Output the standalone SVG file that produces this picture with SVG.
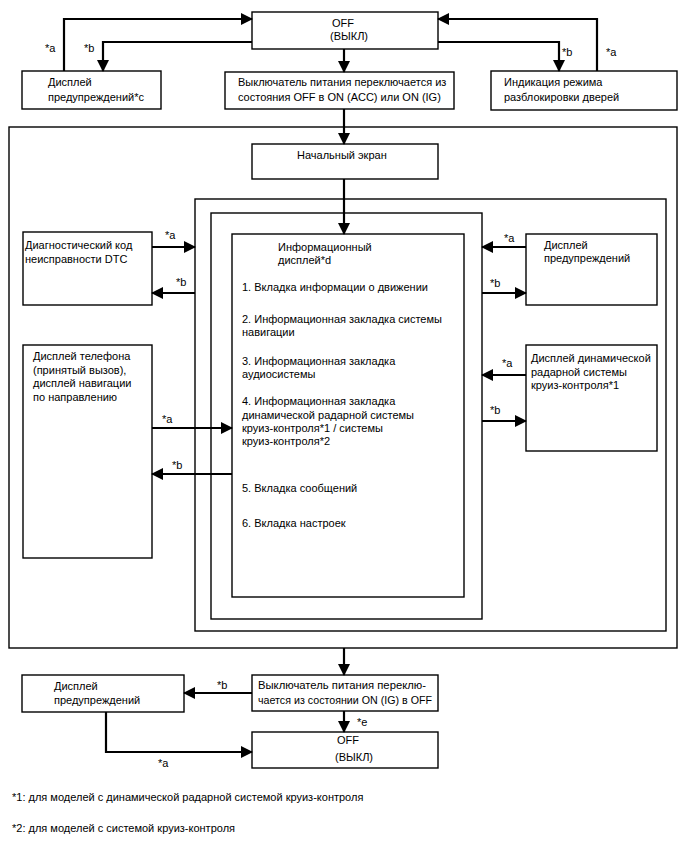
<svg xmlns="http://www.w3.org/2000/svg" width="688" height="852" viewBox="0 0 688 852">
<defs>
<marker id="ah" markerUnits="userSpaceOnUse" markerWidth="12" markerHeight="12" refX="11" refY="6" orient="auto">
<path d="M0,0 L12,6 L0,12 z" fill="#000"/>
</marker>
<style>
.box{fill:#fff;stroke:#000;stroke-width:1.4}
.frame{fill:none;stroke:#000;stroke-width:1.4}
.con{fill:none;stroke:#000;stroke-width:2.2;marker-end:url(#ah)}
text{font-family:"Liberation Sans",Arial,sans-serif;font-size:11px;fill:#000}
</style>
</defs>
<rect width="688" height="852" fill="#fff"/>
<g id="containers">
<rect class="frame" x="9" y="127" width="668" height="521"/>
<rect class="frame" x="195" y="199" width="471" height="432"/>
<rect class="frame" x="211" y="213" width="271" height="406"/>
</g>
<g id="off-top"><rect class="box" x="252" y="12" width="186" height="37"/><text x="332" y="27">OFF</text><text x="330" y="40">(ВЫКЛ)</text></g>
<g id="warn-top-left"><rect class="box" x="22" y="71" width="139" height="38"/><text x="48" y="86">Дисплей</text><text x="48" y="101">предупреждений*c</text></g>
<g id="switch-on"><rect class="box" x="225" y="72" width="229" height="37"/><text x="238" y="86">Выключатель питания переключается из</text><text x="238" y="101">состояния OFF в ON (ACC) или ON (IG)</text></g>
<g id="door-unlock"><rect class="box" x="491" y="71" width="186" height="39"/><text x="504" y="86">Индикация режима</text><text x="504" y="101">разблокировки дверей</text></g>
<g id="start-screen"><rect class="box" x="252" y="144" width="186" height="35"/><text x="297" y="159">Начальный экран</text></g>
<g id="dtc"><rect class="box" x="23" y="232" width="129" height="73"/><text x="25" y="249">Диагностический код</text><text x="25" y="263">неисправности DTC</text></g>
<g id="warn-right"><rect class="box" x="526" y="234" width="131" height="71"/><text x="544" y="249">Дисплей</text><text x="544" y="262">предупреждений</text></g>
<g id="phone"><rect class="box" x="23" y="345" width="129" height="213"/><text x="33" y="360">Дисплей телефона</text><text x="33" y="374">(принятый вызов),</text><text x="33" y="387">дисплей навигации</text><text x="33" y="401">по направлению</text></g>
<g id="radar"><rect class="box" x="526" y="345" width="131" height="106"/><text x="531" y="362">Дисплей динамической</text><text x="531" y="376">радарной системы</text><text x="531" y="389">круиз-контроля*1</text></g>
<g id="info"><rect class="box" x="232" y="234" width="232" height="363"/>
<text x="278" y="251">Информационный</text><text x="278" y="264">дисплей*d</text>
<text x="242" y="291">1. Вкладка информации о движении</text>
<text x="242" y="323">2. Информационная закладка системы</text><text x="242" y="336">навигации</text>
<text x="242" y="365">3. Информационная закладка</text><text x="242" y="378">аудиосистемы</text>
<text x="242" y="405">4. Информационная закладка</text><text x="242" y="419">динамической радарной системы</text><text x="242" y="432">круиз-контроля*1 / системы</text><text x="242" y="445">круиз-контроля*2</text>
<text x="242" y="492">5. Вкладка сообщений</text>
<text x="242" y="527">6. Вкладка настроек</text></g>
<g id="switch-off"><rect class="box" x="252" y="675" width="186" height="36"/><text x="258" y="689" textLength="168" lengthAdjust="spacingAndGlyphs">Выключатель питания переклю-</text><text x="258" y="704" textLength="174" lengthAdjust="spacingAndGlyphs">чается из состоянии ON (IG) в OFF</text></g>
<g id="warn-bottom"><rect class="box" x="22" y="675" width="162" height="37"/><text x="54" y="690">Дисплей</text><text x="54" y="704">предупреждений</text></g>
<g id="off-bottom"><rect class="box" x="252" y="732" width="186" height="36"/><text x="337" y="744">OFF</text><text x="335" y="761">(ВЫКЛ)</text></g>
<g id="connectors">
<path class="con" d="M64,71 V19 H252"/>
<path class="con" d="M252,42 H103 V71"/>
<path class="con" d="M344,49 V72"/>
<path class="con" d="M438,42 H559 V71"/>
<path class="con" d="M597,71 V19 H438"/>
<path class="con" d="M344,109 V144"/>
<path class="con" d="M344,179 V234"/>
<path class="con" d="M152,247 H195"/>
<path class="con" d="M195,293 H152"/>
<path class="con" d="M526,247 H482"/>
<path class="con" d="M482,293 H526"/>
<path class="con" d="M152,428 H232"/>
<path class="con" d="M232,474 H152"/>
<path class="con" d="M526,375 H482"/>
<path class="con" d="M482,421 H526"/>
<path class="con" d="M344,648 V675"/>
<path class="con" d="M252,693 H184"/>
<path class="con" d="M106,712 V752 H252"/>
<path class="con" d="M344,711 V732"/>
</g>
<g id="labels">
<text x="45" y="52">*a</text><text x="84" y="52">*b</text>
<text x="562" y="56">*b</text><text x="606" y="56">*a</text>
<text x="165" y="239">*a</text><text x="176" y="286">*b</text>
<text x="504" y="242">*a</text><text x="490" y="287">*b</text>
<text x="162" y="423">*a</text><text x="172" y="469">*b</text>
<text x="502" y="367">*a</text><text x="490" y="414">*b</text>
<text x="217" y="689">*b</text><text x="158" y="767">*a</text>
<text x="357" y="726">*e</text>
</g>
<g id="footnotes">
<text x="12" y="801">*1: для моделей с динамической радарной системой круиз-контроля</text>
<text x="12" y="832">*2: для моделей с системой круиз-контроля</text>
</g>
</svg>
